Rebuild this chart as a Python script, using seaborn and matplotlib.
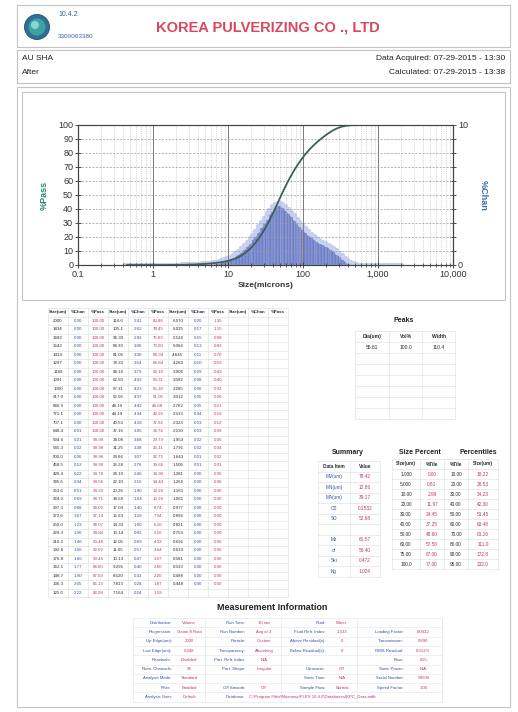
import numpy as np
import pandas as pd
import seaborn as sns
import matplotlib
matplotlib.use("Agg")
import matplotlib.pyplot as plt
from matplotlib.patches import Rectangle, Circle
from matplotlib.ticker import FixedLocator, LogLocator, NullFormatter

# ---------------- data ----------------
sizes = [2000, 1834, 1682, 1542, 1414, 1297, 1189, 1091,
         1000, 917.0, 840.9, 771.1, 707.1, 648.4, 594.6, 545.3,
         500.0, 458.5, 420.4, 385.6, 353.6, 324.2, 297.3, 272.6,
         250.0, 229.3, 210.2, 192.8, 176.8, 162.1, 148.7, 136.3,
         125.0, 114.6, 105.1, 96.39, 88.39, 81.06, 74.33, 68.16,
         62.50, 57.31, 52.56, 48.19, 44.19, 40.53, 37.16, 34.08,
         31.25, 28.66, 26.28, 24.10, 22.10, 20.26, 18.58, 17.04,
         15.63, 14.33, 13.14, 12.05, 11.05, 10.13, 9.291, 8.520,
         7.813, 7.164, 6.570, 6.025, 5.524, 5.066, 4.645, 4.260,
         3.906, 3.582, 3.285, 3.012, 2.762, 2.533, 2.323, 2.130,
         1.953, 1.791, 1.643, 1.506, 1.381, 1.266, 1.161, 1.065,
         0.977, 0.896, 0.821, 0.753, 0.691, 0.633, 0.581, 0.533,
         0.488, 0.448]
chan = [0.00, 0.00, 0.00, 0.00, 0.00, 0.00, 0.00, 0.00,
        0.00, 0.00, 0.00, 0.00, 0.00, 0.01, 0.01, 0.02,
        0.06, 0.12, 0.22, 0.34, 0.51, 0.69, 0.88, 1.07,
        1.23, 1.36, 1.46, 1.56, 1.66, 1.77, 1.90, 2.05,
        2.22, 2.41, 2.62, 2.83, 3.06, 3.30, 3.54, 3.79,
        4.03, 4.23, 4.37, 4.42, 4.34, 4.18, 3.95, 3.68,
        3.38, 3.07, 2.76, 2.46, 2.16, 1.90, 1.64, 1.40,
        1.18, 1.00, 0.83, 0.69, 0.57, 0.47, 0.40, 0.33,
        0.28, 0.24, 0.20, 0.17, 0.15, 0.13, 0.11, 0.10,
        0.09, 0.08, 0.06, 0.05, 0.05, 0.04, 0.03, 0.03,
        0.02, 0.02, 0.01, 0.01, 0.00, 0.00, 0.00, 0.00,
        0.00, 0.00, 0.00, 0.00, 0.00, 0.00, 0.00, 0.00,
        0.00, 0.00]
passing = [100.00, 100.00, 100.00, 100.00, 100.00, 100.00, 100.00, 100.00,
           100.00, 100.00, 100.00, 100.00, 100.00, 100.00, 99.99, 99.98,
           99.96, 99.90, 99.78, 99.56, 99.22, 98.71, 98.02, 97.14,
           96.07, 94.84, 93.48, 92.02, 90.46, 88.80, 87.03, 85.13,
           83.08, 80.86, 78.45, 75.83, 73.00, 69.94, 66.64, 63.10,
           59.31, 55.28, 51.05, 46.68, 42.26, 37.92, 33.74, 29.79,
           26.11, 22.73, 19.66, 16.90, 14.44, 12.28, 10.38, 8.74,
           7.34, 6.16, 5.16, 4.33, 3.64, 3.07, 2.60, 2.20,
           1.87, 1.59, 1.35, 1.15, 0.98, 0.83, 0.70, 0.59,
           0.49, 0.40, 0.32, 0.26, 0.21, 0.16, 0.12, 0.09,
           0.06, 0.04, 0.02, 0.01, 0.00, 0.00, 0.00, 0.00,
           0.00, 0.00, 0.00, 0.00, 0.00, 0.00, 0.00, 0.00,
           0.00, 0.00]

x_ticks = [0.1, 1, 10, 100, 1000, 10000]
x_tick_labels = ["0.1", "1", "10", "100", "1,000", "10,000"]
pass_ticks = [0, 10, 20, 30, 40, 50, 60, 70, 80, 90, 100]
chan_ticks = [0, 1, 2, 3, 4, 5, 6, 7, 8, 9, 10]
chan_tick_labels = ["0", "", "", "", "", "", "", "", "", "", "10"]

peak_header = ["Dia(um)", "Vol%", "Width"]
peak_row = ["55.81", "100.0", "110.4"]

summary_items = ["MV(um)", "MN(um)", "MA(um)", "CS", "SD", "", "Mz", "σi", "Ski", "Kg"]
summary_values = ["78.42", "12.86", "39.17", "0.1532", "52.68", "", "61.57", "56.40", "0.472", "1.024"]

sp_sizes = ["1.000", "5.000", "10.00", "20.00", "30.00", "40.00", "50.00", "60.00", "75.00", "100.0"]
sp_tiles = ["0.00", "0.81", "2.99", "11.97", "24.45", "37.25", "48.60", "57.50", "67.00", "77.00"]
pc_tiles = ["10.00", "20.00", "30.00", "40.00", "50.00", "60.00", "70.00", "80.00", "90.00", "95.00"]
pc_sizes = ["18.22", "26.53", "34.23", "42.30", "51.45", "63.48", "81.20", "111.0", "172.8", "232.0"]

meas_rows = [
    ["Distribution:", "Volume", "Run Time:", "10 sec", "Fluid:", "Water", "", ""],
    ["Progression:", "Geom 8 Root", "Run Number:", "Avg of 3", "Fluid Refr. Index:", "1.333", "Loading Factor:", "0.0432"],
    ["Up Edge(um):", "2000", "Particle:", "Custom", "Above Residual(s):", "0", "Transmission:", "0.896"],
    ["Low Edge(um):", "0.448", "Transparency:", "Absorbing", "Below Residual(s):", "0", "RMS Residual:", "0.312%"],
    ["Residuals:", "Disabled", "Part. Refr. Index:", "N/A", "", "", "Flow:", "60%"],
    ["Num. Channels:", "98", "Part. Shape:", "Irregular", "Ultrasonic:", "Off", "Sonic Power:", "N/A"],
    ["Analysis Mode:", "Standard", "", "", "Sonic Time:", "N/A", "Serial Number:", "S3500"],
    ["Filter:", "Enabled", "Off Smooth:", "Off", "Sample Flow:", "Normal", "Speed Factor:", "1.00"],
    ["Analysis Gain:", "Default", "", "", "", "", "", ""],
]
database_text = r"Database: C:\Program Files\Microtrac\FLEX 10.4.2\Databases\KPC_Data.mdb"

df = pd.DataFrame({"size": sizes, "chan": chan, "pass": passing})

# ---------------- style ----------------
sns.set_theme(style="white")
plt.rcParams["font.family"] = ["Liberation Sans", "DejaVu Sans"]

W, H = 518, 712
fig = plt.figure(figsize=(W / 100, H / 100), dpi=100)
fig.patch.set_facecolor("white")

page = fig.add_axes([0, 0, 1, 1])
page.set_xlim(0, W)
page.set_ylim(H, 0)
page.axis("off")
page.set_zorder(0)

box_c = "#c4c4c4"
for (x, y, w, h) in [(17, 5, 493, 42), (17, 50, 493, 33), (17, 87, 493, 620), (22, 92, 483, 208)]:
    page.add_patch(Rectangle((x, y), w, h, fill=False, ec=box_c, lw=0.8))

# logo
page.add_patch(Circle((37, 27), 12.5, fc="#2f6f93", ec="#1f4f6f", lw=0.6))
page.add_patch(Circle((37, 27), 8.5, fc="#3aa3a8", ec="none"))
page.add_patch(Circle((35, 25), 4, fc="#8fd3cf", ec="none"))
page.text(58, 14, "10.4.2", fontsize=5, color="#3a5fa8", va="center")
page.text(58, 37, "3300063380", fontsize=4.6, color="#3a5fa8", va="center")
page.text(268, 27, "KOREA PULVERIZING CO ., LTD", fontsize=10.5, fontweight="bold",
          color="#d8475e", ha="center", va="center")

page.text(22, 59, "AU SHA", fontsize=6, va="center", color="#222")
page.text(22, 73, "After", fontsize=6, va="center", color="#222")
page.text(505, 59, "Data Acquired: 07-29-2015 - 13:30", fontsize=6, ha="right", va="center", color="#222")
page.text(505, 73, "Calculated: 07-29-2015 - 13:38", fontsize=6, ha="right", va="center", color="#222")

# ---------------- chart ----------------
rect = [78 / W, 1 - 265 / H, 375 / W, 140 / H]
ax_pass = fig.add_axes(rect)
ax_pass.set_xscale("log")
ax_pass.set_xlim(0.1, 10000)
ax_pass.set_ylim(0, 100)
ax_chan = ax_pass.twinx()
ax_chan.set_ylim(0, 10)
ax_pass.set_zorder(2)
ax_chan.set_zorder(1)
ax_pass.patch.set_visible(False)
ax_chan.patch.set_visible(True)
ax_chan.patch.set_facecolor("white")

lo = np.log10(min(sizes)) - np.log10(2) / 16
hi = np.log10(max(sizes)) + np.log10(2) / 16
sns.histplot(data=df, x="size", weights="chan", bins=len(sizes), binrange=(lo, hi),
             element="step", fill=False, color="#c6d1f0", linewidth=3.0, ax=ax_chan)
sns.histplot(data=df, x="size", weights="chan", bins=len(sizes), binrange=(lo, hi),
             element="bars", color="#6e7fc8", edgecolor="#aab6e8", linewidth=0.3,
             alpha=1, ax=ax_chan)
ax_chan.set_ylim(0, 10)

sns.lineplot(data=df, x="size", y="pass", ax=ax_pass, color="#3f5f5c", linewidth=1.3)
ax_pass.set_xlim(0.1, 10000)
ax_pass.set_ylim(0, 100)

ax_pass.xaxis.set_major_locator(FixedLocator(x_ticks))
ax_pass.set_xticklabels(x_tick_labels)
ax_pass.xaxis.set_minor_locator(LogLocator(base=10, subs=np.arange(2, 10)))
ax_pass.xaxis.set_minor_formatter(NullFormatter())
ax_pass.set_yticks(pass_ticks)
ax_chan.set_yticks(chan_ticks)
ax_chan.set_yticklabels(chan_tick_labels)

ax_pass.grid(True, which="major", axis="x", color="#7a7a7a", lw=0.7, ls="-")
ax_pass.grid(True, which="minor", axis="x", color="#b5b5b5", lw=0.4, ls=(0, (2, 2)))
ax_pass.grid(True, which="major", axis="y", color="#9a9a9a", lw=0.5, ls=(0, (3, 2)))
ax_chan.grid(False)

for a in (ax_pass, ax_chan):
    a.tick_params(axis="both", which="major", direction="inout", length=4, width=0.6,
                  labelsize=6.5, colors="#333", pad=1.5)
    a.tick_params(axis="both", which="minor", direction="inout", length=2.5, width=0.5)
    for s in a.spines.values():
        s.set_color("#444")
        s.set_linewidth(0.8)
ax_pass.tick_params(axis="x", which="both", bottom=True)
ax_pass.tick_params(axis="y", which="major", left=True)

ax_pass.set_xlabel("Size(microns)", fontsize=6, fontweight="bold", color="#333", labelpad=2)
ax_pass.set_ylabel("%Pass", fontsize=6.5, fontweight="bold", color="#2e8a6e", labelpad=7)
ax_chan.set_ylabel("%Chan", fontsize=6.5, fontweight="bold", color="#3c6cb4",
                   rotation=270, labelpad=14)


# ---------------- tables ----------------
def draw_table(x0, y0, col_ws, row_h, rows, colors, fs, line_c="#d8e0d8", bold_first=True):
    xs = np.concatenate([[x0], x0 + np.cumsum(col_ws)])
    for r, row in enumerate(rows):
        for c, txt in enumerate(row):
            if not txt:
                continue
            col = colors[r][c] if isinstance(colors[r], (list, tuple)) else colors[r]
            page.text((xs[c] + xs[c + 1]) / 2, y0 + (r + 0.5) * row_h, txt,
                      fontsize=fs, ha="center", va="center", color=col,
                      fontweight="bold" if (bold_first and r == 0) else "normal")
    n = len(rows)
    for r in range(n + 1):
        page.plot([xs[0], xs[-1]], [y0 + r * row_h] * 2, color=line_c, lw=0.4)
    for x in xs:
        page.plot([x, x], [y0, y0 + n * row_h], color=line_c, lw=0.4)


dark, blue, pink = "#2a2a3a", "#3450a8", "#c2336e"

# main channel table
hdr = ["Size(um)", "%Chan", "%Pass"] * 4
nrow = 33
rows = [hdr]
cols_c = [[dark] * 12]
for i in range(nrow):
    row = []
    for g in range(4):
        k = g * nrow + i
        if k < len(sizes) and g < 3:
            s = sizes[k]
            st = f"{s:.0f}" if s >= 1000 else (f"{s:.1f}" if s >= 100 else (f"{s:.2f}" if s >= 10 else f"{s:.3f}"))
            row += [st, f"{chan[k]:.2f}", f"{passing[k]:.2f}"]
        else:
            row += ["", "", ""]
    rows.append(row)
    cols_c.append([dark, blue, pink] * 4)
draw_table(48, 308, [20] * 12, 8.5, rows, cols_c, 3.2)

# peaks
page.text(404, 320, "Peaks", fontsize=5, fontweight="bold", ha="center", va="center", color="#222")
prow = [peak_header, peak_row] + [["", "", ""]] * 6
draw_table(355, 331, [34, 33, 33], 11, prow, [dark] * 8, 3.6)

# summary
page.text(348, 452, "Summary", fontsize=5, fontweight="bold", ha="center", va="center", color="#222")
srows = [["Data Item", "Value"]] + [[a, b] for a, b in zip(summary_items, summary_values)]
draw_table(318, 461, [32, 30], 10.5, srows, [[dark, dark]] + [[blue, pink]] * 10, 3.4)

# size percent / percentiles
page.text(420, 452, "Size Percent", fontsize=5, fontweight="bold", ha="center", va="center", color="#222")
page.text(478, 452, "Percentiles", fontsize=5, fontweight="bold", ha="center", va="center", color="#222")
prows = [["Size(um)", "%Tile", "%Tile", "Size(um)"]] + \
        [[a, b, c, d] for a, b, c, d in zip(sp_sizes, sp_tiles, pc_tiles, pc_sizes)]
draw_table(392, 459, [28, 24, 24, 30], 10, prows,
           [[dark] * 4] + [[dark, pink, dark, pink]] * 10, 3.4)

# measurement information
page.text(272, 608, "Measurement Information", fontsize=6.5, fontweight="bold",
          ha="center", va="center", color="#222")
mw = [40, 32, 42, 34, 46, 30, 48, 37]
mx = np.concatenate([[133], 133 + np.cumsum(mw)])
my0, mh = 618, 9.3
for r, row in enumerate(meas_rows):
    yc = my0 + (r + 0.5) * mh
    for c, txt in enumerate(row):
        if not txt:
            continue
        if c % 2 == 0:
            page.text(mx[c + 1] - 1.5, yc, txt, fontsize=3.1, ha="right", va="center", color=blue)
        else:
            page.text((mx[c] + mx[c + 1]) / 2, yc, txt, fontsize=3.1, ha="center", va="center", color=pink)
page.text(mx[3] - 1.5, my0 + 8.5 * mh, database_text.split(" ", 1)[0], fontsize=3.1,
          ha="right", va="center", color=blue)
page.text(mx[3] + 2, my0 + 8.5 * mh, database_text.split(" ", 1)[1], fontsize=3.1,
          ha="left", va="center", color=pink)
for r in range(len(meas_rows) + 1):
    page.plot([mx[0], mx[-1]], [my0 + r * mh] * 2, color="#dfe4ea", lw=0.4)
for x in mx[::2]:
    page.plot([x, x], [my0, my0 + len(meas_rows) * mh], color="#dfe4ea", lw=0.4)
page.plot([mx[-1], mx[-1]], [my0, my0 + len(meas_rows) * mh], color="#dfe4ea", lw=0.4)

fig.savefig("out.png", dpi=100, facecolor="white")
